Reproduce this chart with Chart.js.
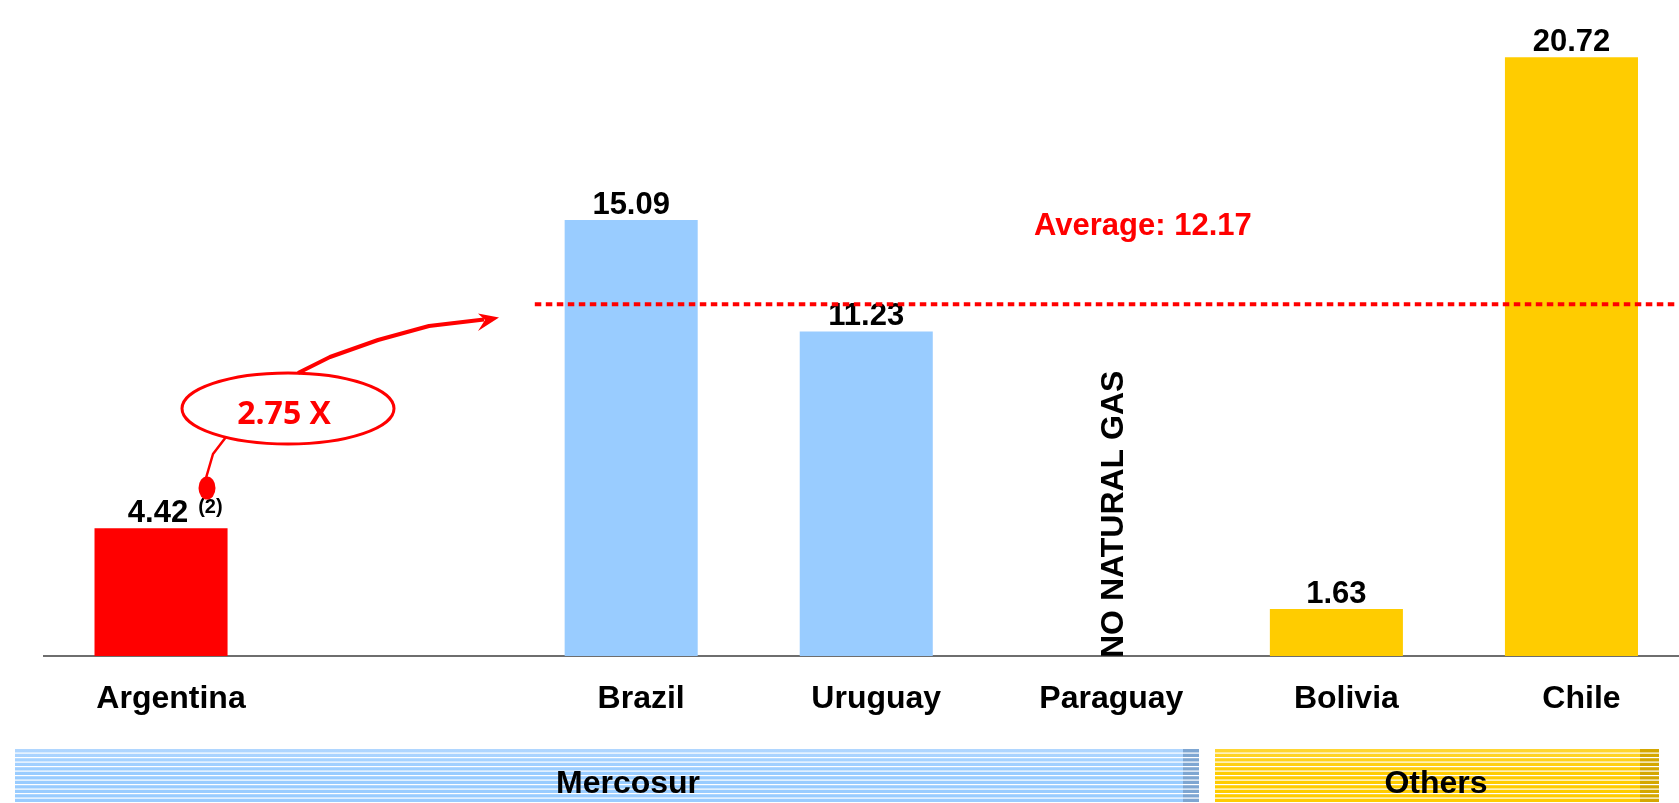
<!DOCTYPE html>
<html>
<head>
<meta charset="utf-8">
<title>Natural gas price comparison</title>
<script src="https://cdn.jsdelivr.net/npm/chart.js@4.4.4/dist/chart.umd.min.js"></script>
<style>
  html, body { margin: 0; padding: 0; background: #fff; overflow: hidden; }
  #wrap { position: relative; width: 1689px; height: 803px; }
</style>
</head>
<body>
<div id="wrap"><canvas id="chart"></canvas></div>
<script>
// ─── Data ────────────────────────────────────────────────────────────────────

// empty slot between Argentina and Brazil, Paraguay has no value
const COUNTRIES = ['Argentina', '', 'Brazil', 'Uruguay', 'Paraguay', 'Bolivia', 'Chile'];
const PRICES = [4.42, null, 15.09, 11.23, null, 1.63, 20.72];
const AVERAGE = 12.17;
const AVERAGE_LABEL = 'Average: 12.17';
const MULTIPLE_LABEL = '2.75 X';
const ARGENTINA_NOTE = '(2)';
const PARAGUAY_NOTE = 'NO NATURAL GAS';
const GROUP_NAMES = ['Mercosur', 'Others'];

// ─── Styles ──────────────────────────────────────────────────────────────────

const FONT = "'Liberation Sans', Arial, Helvetica, sans-serif";
const RED = '#ff0000';
const BAR_COLORS = ['#ff0000', '#ff0000', '#99ccff', '#99ccff', '#99ccff', '#ffcc00', '#ffcc00'];

// ─── Value labels above bars ────────────────────────────────────────────────

const valueLabels = {
    id: 'valueLabels',
    afterDatasetsDraw(chart) {
        const { ctx } = chart;
        const bars = chart.getDatasetMeta(0).data;
        ctx.save();
        ctx.fillStyle = '#000';
        ctx.textBaseline = 'alphabetic';
        bars.forEach((bar, i) => {
            const v = PRICES[i];
            if (v === null) return;
            const txt = v.toFixed(2);
            const y = bar.y - 6;
            ctx.font = 'bold 31px ' + FONT;
            if (i === 0) {
                const w = ctx.measureText(txt).width;
                const x = bar.x - 3 - w / 2;
                ctx.textAlign = 'left';
                ctx.fillText(txt, x, y);
                ctx.font = 'bold 20px ' + FONT;
                ctx.fillText(ARGENTINA_NOTE, x + w + 10, y - 9);
            } else {
                ctx.textAlign = 'center';
                ctx.fillText(txt, bar.x, y);
            }
        });
        ctx.restore();
    }
};

// ─── Average line + notes ───────────────────────────────────────────────────

const averageLine = {
    id: 'averageLine',
    afterDatasetsDraw(chart) {
        const { ctx, scales: { x, y }, chartArea } = chart;
        const yAvg = y.getPixelForValue(AVERAGE);
        ctx.save();
        ctx.strokeStyle = RED;
        ctx.lineWidth = 4;
        ctx.setLineDash([6.5, 4.5]);
        ctx.beginPath();
        ctx.moveTo(x.getPixelForValue(1.59), yAvg);
        ctx.lineTo(x.getPixelForValue(6.45), yAvg);
        ctx.stroke();
        ctx.setLineDash([]);

        ctx.fillStyle = RED;
        ctx.font = 'bold 31px ' + FONT;
        ctx.textAlign = 'left';
        ctx.textBaseline = 'alphabetic';
        ctx.fillText(AVERAGE_LABEL, x.getPixelForValue(3.714), yAvg - 69);

        // vertical note on Paraguay
        ctx.fillStyle = '#000';
        ctx.font = 'bold 32px ' + FONT;
        ctx.translate(x.getPixelForValue(4) + 22, chartArea.bottom + 2);
        ctx.rotate(-Math.PI / 2);
        ctx.fillText(PARAGUAY_NOTE, 0, 0);
        ctx.restore();
    }
};

// ─── Callout (ellipse + arrow) and group banners ────────────────────────────

function drawBanner(ctx, x0, x1, y0, y1, light, base, dark, endW) {
    const g = ctx.createLinearGradient(0, y0, 0, y1);
    g.addColorStop(0, light);
    g.addColorStop(0.45, base);
    g.addColorStop(1, base);
    ctx.fillStyle = g;
    ctx.fillRect(x0, y0, x1 - x0, y1 - y0);
    ctx.fillStyle = dark;
    ctx.fillRect(x1 - endW, y0, endW, y1 - y0);
    ctx.fillStyle = '#fff';
    for (let yy = y0 + 3.5; yy < y1; yy += 4.5) ctx.fillRect(x0, yy, x1 - x0, 1.2);
}

const decorations = {
    id: 'decorations',
    afterDraw(chart) {
        const { ctx } = chart;
        ctx.save();

        // callout
        ctx.strokeStyle = RED;
        ctx.fillStyle = RED;
        ctx.lineWidth = 3;
        ctx.beginPath();
        ctx.ellipse(288, 408.5, 106, 35.5, 0, 0, Math.PI * 2);
        ctx.stroke();

        ctx.font = "bold 32px 'Open Sans', " + FONT;
        ctx.textAlign = 'center';
        ctx.textBaseline = 'alphabetic';
        ctx.fillText(MULTIPLE_LABEL, 284, 424);

        ctx.lineWidth = 4;
        ctx.lineJoin = 'round';
        ctx.beginPath();
        ctx.moveTo(298, 373);
        ctx.lineTo(330, 357);
        ctx.lineTo(378, 340);
        ctx.lineTo(429, 326);
        ctx.lineTo(484, 319.5);
        ctx.stroke();
        ctx.beginPath();
        ctx.moveTo(499, 317.5);
        ctx.lineTo(478, 313.5);
        ctx.lineTo(485, 320);
        ctx.lineTo(478, 331);
        ctx.closePath();
        ctx.fill();

        ctx.lineWidth = 2.5;
        ctx.beginPath();
        ctx.moveTo(226, 437);
        ctx.lineTo(213, 454);
        ctx.lineTo(206, 478);
        ctx.stroke();
        ctx.beginPath();
        ctx.ellipse(207, 488, 8.5, 11.5, 0, 0, Math.PI * 2);
        ctx.fill();

        // group banners
        drawBanner(ctx, 15, 1199, 749, 803, '#b0d6ff', '#99ccff', '#7ea6d2', 16);
        drawBanner(ctx, 1215, 1659, 749, 803, '#ffd633', '#ffcc00', '#d4a700', 19);
        ctx.fillStyle = '#000';
        ctx.font = 'bold 32px ' + FONT;
        ctx.textAlign = 'center';
        ctx.fillText(GROUP_NAMES[0], 628, 793);
        ctx.fillText(GROUP_NAMES[1], 1436, 793);
        ctx.restore();
    }
};

// ─── Chart ───────────────────────────────────────────────────────────────────

new Chart(document.getElementById('chart'), {
    type: 'bar',
    data: {
        labels: COUNTRIES,
        datasets: [{
            data: PRICES,
            backgroundColor: BAR_COLORS,
            borderWidth: 0,
            categoryPercentage: 0.566,
            barPercentage: 1
        }]
    },
    options: {
        responsive: true,
        maintainAspectRatio: false,
        animation: false,
        layout: { padding: { left: 43.5, right: 0, top: 0, bottom: 0 } },
        plugins: { legend: { display: false }, tooltip: { enabled: false } },
        scales: {
            x: {
                z: 1,
                grid: { display: false, drawTicks: false },
                border: { display: true, color: '#6e6e6e', width: 2 },
                ticks: {
                    color: '#000',
                    font: { family: FONT, size: 32, weight: 'bold' },
                    padding: 24,
                    labelOffset: 10,
                    autoSkip: false,
                    maxRotation: 0
                },
                afterFit: s => { s.height = 147; }
            },
            y: { display: false, min: 0, max: 22.7 }
        }
    },
    plugins: [valueLabels, averageLine, decorations]
});
</script>
</body>
</html>
